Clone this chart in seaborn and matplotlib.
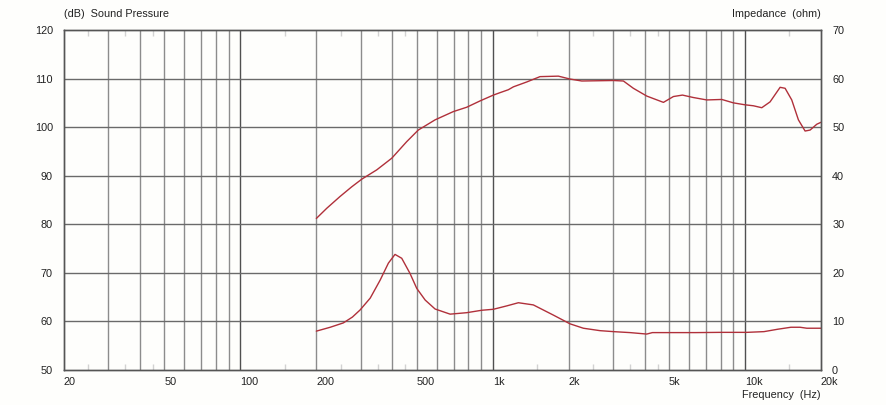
import matplotlib
matplotlib.use("Agg")
import matplotlib.pyplot as plt
import matplotlib.ticker as mticker
import pandas as pd
import seaborn as sns

# sound pressure curve (Hz, dB)
spl_freq = [200, 220, 248, 276, 303, 347, 398, 456, 507, 591, 698, 789, 891, 1006,
            1069, 1153, 1208, 1364, 1540, 1821, 2026, 2254, 3007, 3296, 3609, 4078,
            4749, 5201, 5650, 6238, 7052, 8089, 8991, 9994, 10792, 11649, 12565,
            13772, 14414, 15315, 16275, 17299, 18106, 19247, 20000]
spl_db = [81.2, 83.3, 85.7, 87.7, 89.3, 91.2, 93.6, 97.0, 99.4, 101.5, 103.2, 104.1,
          105.4, 106.6, 107.1, 107.7, 108.3, 109.3, 110.4, 110.5, 109.9, 109.5, 109.6,
          109.5, 108.0, 106.4, 105.1, 106.3, 106.6, 106.1, 105.6, 105.7, 105.0, 104.6,
          104.4, 104.0, 105.2, 108.2, 108.0, 105.6, 101.5, 99.2, 99.4, 100.6, 101.0]

# impedance curve (Hz, ohm)
imp_freq = [200, 227, 256, 278, 298, 327, 358, 386, 410, 436, 470, 500, 540, 591, 678,
            789, 905, 1006, 1137, 1264, 1449, 1740, 2026, 2287, 2662, 3007, 3500,
            4078, 4294, 5000, 6370, 7995, 10159, 11890, 13500, 15200, 16525, 17571,
            20000]
imp_ohm = [8.0, 8.8, 9.7, 10.9, 12.35, 14.8, 18.5, 22.0, 23.8, 23.0, 19.9, 16.8, 14.4,
           12.56, 11.5, 11.8, 12.3, 12.5, 13.2, 13.85, 13.4, 11.3, 9.5, 8.6, 8.1, 7.9,
           7.7, 7.4, 7.7, 7.7, 7.7, 7.75, 7.75, 7.9, 8.4, 8.8, 8.8, 8.6, 8.6]

x_ticks = [20, 50, 100, 200, 500, 1000, 2000, 5000, 10000, 20000]
x_labels = ['20', '50', '100', '200', '500', '1k', '2k', '5k', '10k', '20k']
db_ticks = [50, 60, 70, 80, 90, 100, 110, 120]
ohm_ticks = [0, 10, 20, 30, 40, 50, 60, 70]

spl = pd.DataFrame({'freq': spl_freq, 'db': spl_db})
imp = pd.DataFrame({'freq': imp_freq, 'ohm': imp_ohm})

sns.set_theme(style='white')
plt.rcParams['font.family'] = ['Liberation Sans', 'DejaVu Sans']

bg = '#fefefc'
curve = '#b0303a'
txt = '#222222'
fs = 7.8

fig = plt.figure(figsize=(8.86, 4.05), dpi=100, facecolor=bg)
ax = fig.add_axes([64 / 886, 35 / 405, 757 / 886, 340 / 405], facecolor=bg)
ax2 = ax.twinx()

sns.lineplot(data=spl, x='freq', y='db', ax=ax, color=curve, linewidth=1)
sns.lineplot(data=imp, x='freq', y='ohm', ax=ax2, color=curve, linewidth=1)

ax.set_xscale('log')
ax.set_xlim(20, 20000)
ax.set_ylim(50, 120)
ax2.set_ylim(0, 70)

# grid: minor decade lines lighter, 100/1k/10k and horizontal lines darker
minor = [f * d for d in (10, 100, 1000) for f in range(2, 10)]
for f in minor:
    if 20 < f < 20000:
        ax.axvline(f, color='#8c8c8c', linewidth=1, zorder=0)
for f in (100, 1000, 10000):
    ax.axvline(f, color='#505050', linewidth=1, zorder=0)
for v in db_ticks[1:-1]:
    ax.axhline(v, color='#6a6a6a', linewidth=1, zorder=0)

ax.xaxis.set_major_locator(mticker.FixedLocator(x_ticks))
ax.xaxis.set_major_formatter(mticker.FixedFormatter(x_labels))
half = [25, 35, 45, 150, 250, 350, 450, 1500, 2500, 3500, 4500, 15000]
ax.xaxis.set_minor_locator(mticker.FixedLocator(half))
ax.xaxis.set_minor_formatter(mticker.NullFormatter())
ax.tick_params(axis='x', which='major', length=0, pad=5, labelsize=fs, colors=txt)
ax.tick_params(axis='x', which='minor', length=4, direction='in', top=True,
               bottom=True, color='#d2d2d2', width=1)
for lbl in ax.get_xticklabels():
    lbl.set_horizontalalignment('left')

ax.set_yticks(db_ticks)
ax.tick_params(axis='y', length=0, pad=8, labelsize=fs, colors=txt)
ax2.set_yticks(ohm_ticks)
ax2.tick_params(axis='y', length=0, pad=8, labelsize=fs, colors=txt)

ax.set_xlabel('')
ax.set_ylabel('')
ax2.set_ylabel('')
for a in (ax, ax2):
    for s in a.spines.values():
        s.set_color('#555555')
        s.set_linewidth(1)

fig.text(64 / 886, 1 - 17 / 405, '(dB)  Sound Pressure', fontsize=fs, color=txt,
         ha='left', va='baseline')
fig.text(821 / 886, 1 - 17 / 405, 'Impedance  (ohm)', fontsize=fs, color=txt,
         ha='right', va='baseline')
fig.text(821 / 886, 1 - 398 / 405, 'Frequency  (Hz)', fontsize=fs, color=txt,
         ha='right', va='baseline')

fig.savefig('out.png', dpi=100, facecolor=bg)
